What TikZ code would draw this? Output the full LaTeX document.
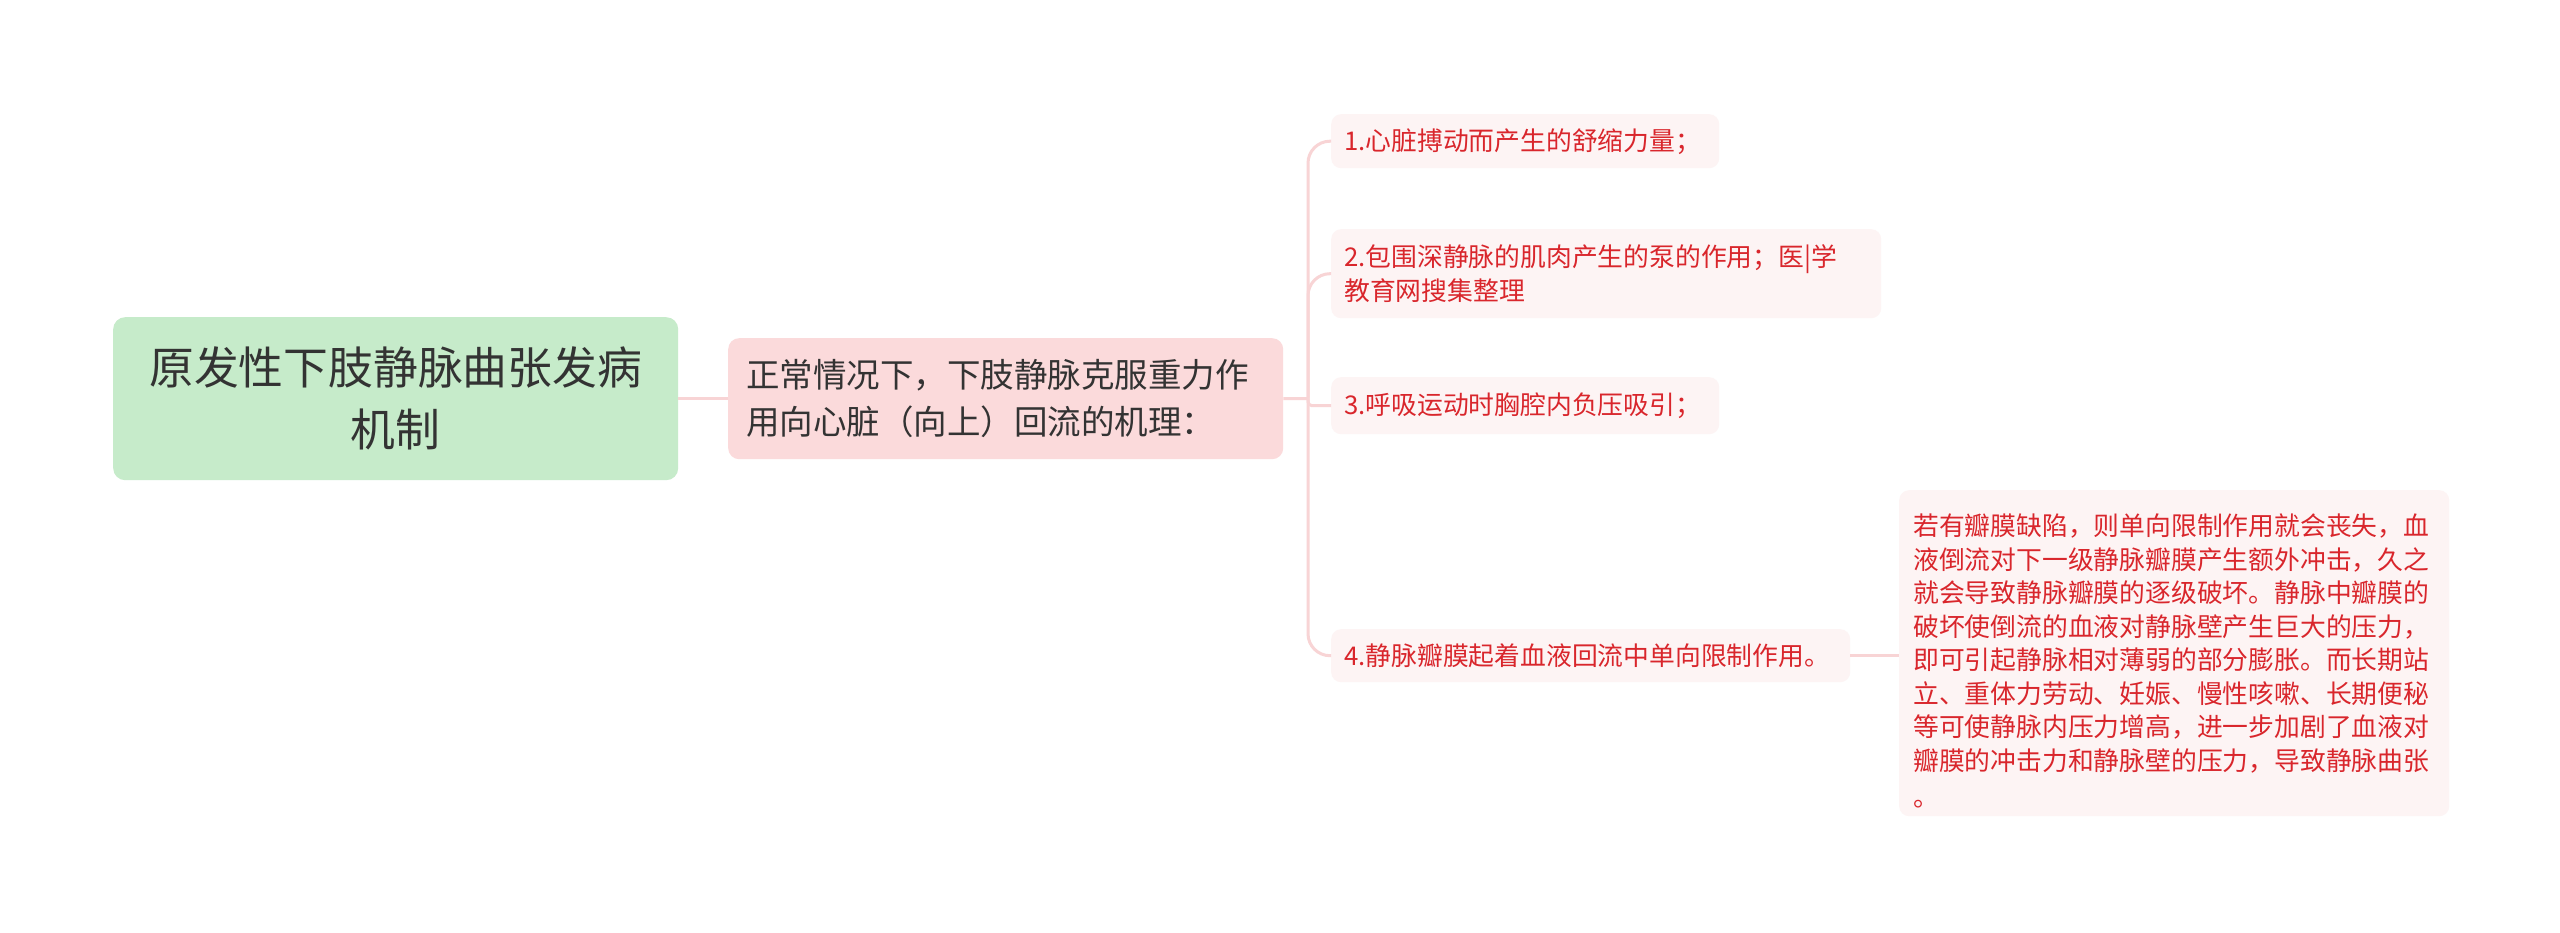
\documentclass[tikz,border=0pt]{standalone}
\usepackage{fontspec}
\setmainfont{Noto Sans CJK SC}
\definecolor{rootfill}{HTML}{C6EBCA}
\definecolor{midfill}{HTML}{FBDADB}
\definecolor{leaffill}{HTML}{FDF4F4}
\definecolor{leaftext}{HTML}{D9262C}
\definecolor{conncol}{HTML}{F8D4D5}
\definecolor{darktext}{HTML}{333333}
\tikzset{
  rootbox/.style={fill=rootfill, rounded corners=12, text=darktext, align=center,
    font=\fontsize{44.8}{62}\selectfont, inner sep=0pt},
  midbox/.style={fill=midfill, rounded corners=11, text=darktext, align=left,
    font=\fontsize{33.5}{47}\selectfont, inner xsep=18pt, inner ysep=0pt},
  leafbox/.style={fill=leaffill, rounded corners=10, text=leaftext, align=left,
    font=\fontsize{25.8}{33.5}\selectfont, inner xsep=13pt, inner ysep=0pt},
  leaftextstyle/.style={text=leaftext, align=left,
    font=\fontsize{25.8}{33.5}\selectfont, inner sep=0pt},
  conn/.style={draw=conncol, line width=3pt}
}
\begin{document}
\begin{tikzpicture}[x=1pt,y=-1pt]
\useasboundingbox[fill=white] (0,0) rectangle (2560,933);
\node[rootbox, anchor=north west, minimum width=565pt, minimum height=163pt] (root) at (113,317)
  {原发性下肢静脉曲张发病\\机制};
\node[midbox, anchor=north west, text width=519pt, minimum height=121pt] (mid) at (728,338)
  {正常情况下，下肢静脉克服重力作\\用向心脏（向上）回流的机理：};
\node[leafbox, anchor=north west, text width=362pt, minimum height=54pt] (l1) at (1331,114)
  {1.心脏搏动而产生的舒缩力量；};
\node[leafbox, anchor=north west, text width=524pt, minimum height=89pt] (l2) at (1331,229)
  {2.包围深静脉的肌肉产生的泵的作用；医|学\\教育网搜集整理};
\node[leafbox, anchor=north west, text width=362pt, minimum height=57pt] (l3) at (1331,377)
  {3.呼吸运动时胸腔内负压吸引；};
\node[leafbox, anchor=north west, text width=493pt, minimum height=53pt] (l4) at (1331,629)
  {4.静脉瓣膜起着血液回流中单向限制作用。};
\node[leafbox, anchor=north west, minimum width=550pt, minimum height=326pt] (l5) at (1899,490) {};
\node[leaftextstyle, anchor=north west, text width=522pt] (l5t) at (1913,514)
  {若有瓣膜缺陷，则单向限制作用就会丧失，血\\
   液倒流对下一级静脉瓣膜产生额外冲击，久之\\
   就会导致静脉瓣膜的逐级破坏。静脉中瓣膜的\\
   破坏使倒流的血液对静脉壁产生巨大的压力，\\
   即可引起静脉相对薄弱的部分膨胀。而长期站\\
   立、重体力劳动、妊娠、慢性咳嗽、长期便秘\\
   等可使静脉内压力增高，进一步加剧了血液对\\
   瓣膜的冲击力和静脉壁的压力，导致静脉曲张\\[3pt]
   。};
\coordinate (sp) at (1308,398.5);
\draw[conn] (root.east) -- (mid.west);
\draw[conn] (mid.east) -- (sp);
\draw[conn, rounded corners=22pt] (sp) |- (l1.west);
\draw[conn, rounded corners=22pt] (sp) |- (l2.west);
\draw[conn, rounded corners=4pt] (sp) |- (l3.west);
\draw[conn, rounded corners=22pt] (sp) |- (l4.west);
\draw[conn] (l4.east) -- (l5.west |- l4.east);
\end{tikzpicture}
\end{document}
